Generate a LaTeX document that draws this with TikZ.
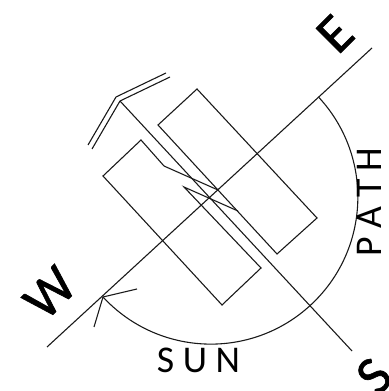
\documentclass[tikz,border=0pt]{standalone}
\usepackage{fontspec}
\setmainfont{Carlito}
\newfontfamily\heavyfont[FakeBold=1.2]{Carlito}
\tikzset{
    thinline/.style={line width=0.62pt, black!90},
    bigletter/.style={rotate=45, font=\heavyfont\fontsize{31}{31}\selectfont},
    pathletters/.style={font=\fontsize{21.5}{21.5}\selectfont}
}
\begin{document}
\begin{tikzpicture}[x=0.02cm, y=0.02cm]
    \useasboundingbox (0,0) rectangle (388,391);

    % Axes
    \coordinate (west) at (47,44);
    \coordinate (east) at (372,343);
    \coordinate (south) at (352,40);
    \coordinate (apexin) at (120,290);
    \coordinate (apexout) at (116,294);
    \draw[thinline] (west) -- (east);
    \draw[thinline] (apexin) -- (south);

    % Roof
    \draw[thinline] (166,318) -- (apexout) -- (88,246);
    \draw[thinline] (170,314) -- (apexin) -- (92,242);

    % Panels
    \draw[thinline] (197,302) -- (158,266) -- (277,137) -- (317,173) -- cycle;
    \draw[thinline] (218,201) -- (164,225) -- (141,251) -- (103,215) -- (222,86) -- (261,123) -- (184,204) -- (238,180);

    % Sun path
    \coordinate (sunend) at (103,94);
    \draw[thinline] (sunend) arc[start angle=222.8, end angle=402.8, radius=147];
    \draw[thinline] (137,102) -- (sunend) -- (94,64);

    % Labels
    \node[bigletter] (labelw) at (50,98) {W};
    \node[bigletter] (labele) at (335,357) {E};
    \node[bigletter] (labels) at (374,15) {S};
    \node[pathletters] (labelsun) at (198.5,31) {S U N};
    \node[pathletters, rotate=90] (labelpath) at (369,189) {P A T H};
\end{tikzpicture}
\end{document}
